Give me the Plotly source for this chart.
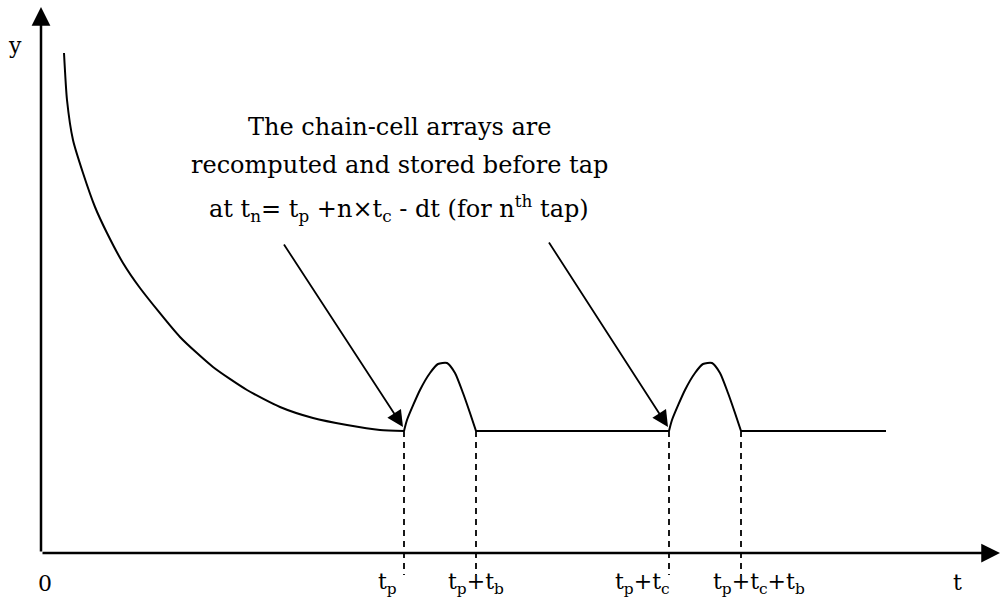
import plotly.graph_objects as go

# Timing parameters (time units along t, response units along y)
t_p = 363          # start of first tap
t_b = 72           # tap duration
t_c = 265          # tap cycle
t_end = 845        # end of plotted response
y_level = 122      # steady level between taps

# Initial decay of the response before the first tap
decay_t = [23, 26, 32, 42, 54, 66, 82, 99, 139, 172, 206, 239, 272, 306, 339, 363]
decay_y = [500, 453, 413, 380, 346, 320, 290, 265, 216, 186, 163, 146, 135, 128, 123, 122]

# Shape of a single tap pulse (offset from tap start, rise above steady level)
pulse_dt = [0, 3, 16, 26, 34, 43, 51, 59, 66, 72]
pulse_dy = [0, 11, 41, 58, 67, 68, 58, 38, 18, 0]

# Axis tick labels along t
tick_pos = [t_p, t_p + t_b, t_p + t_c, t_p + t_c + t_b]
tick_text = ["t<sub>p</sub>", "t<sub>p</sub>+t<sub>b</sub>",
             "t<sub>p</sub>+t<sub>c</sub>", "t<sub>p</sub>+t<sub>c</sub>+t<sub>b</sub>"]
tick_xshift = [-17, 0, -27, 18]

note_lines = [
    "The chain-cell arrays are",
    "recomputed and stored before tap",
    "at t<sub>n</sub>= t<sub>p</sub> +n×t<sub>c</sub> - dt (for n<sup>th</sup> tap)",
]

FONT = "DejaVu Serif"
BLACK = "#000000"
LINE = dict(color=BLACK, width=2)

fig = go.Figure()

# Dashed guides from the curve down past the t axis
for tp in tick_pos:
    fig.add_trace(go.Scatter(
        x=[tp, tp], y=[y_level, -22], mode="lines",
        line=dict(color=BLACK, width=1.8, dash="6px,5px"),
        hoverinfo="skip", showlegend=False))

# Initial decay
fig.add_trace(go.Scatter(
    x=decay_t, y=decay_y, mode="lines",
    line=dict(LINE, shape="spline", smoothing=0.6),
    hoverinfo="skip", showlegend=False))

# Tap pulses and the steady level between them
tap_starts = [t_p, t_p + t_c]
flat_ends = [t_p + t_c, t_end]
for start, flat_end in zip(tap_starts, flat_ends):
    fig.add_trace(go.Scatter(
        x=[start + dt for dt in pulse_dt],
        y=[y_level + dy for dy in pulse_dy], mode="lines",
        line=dict(LINE, shape="spline", smoothing=0.6),
        hoverinfo="skip", showlegend=False))
    fig.add_trace(go.Scatter(
        x=[start + t_b, flat_end], y=[y_level, y_level], mode="lines",
        line=LINE, hoverinfo="skip", showlegend=False))

annotations = []

# Axes drawn as arrows
annotations.append(dict(x=0, y=546, ax=0, ay=0, xref="x", yref="y", axref="x", ayref="y",
                        text="", showarrow=True, arrowhead=2, arrowsize=1.5,
                        arrowwidth=2.5, arrowcolor=BLACK))
annotations.append(dict(x=959, y=0, ax=0, ay=0, xref="x", yref="y", axref="x", ayref="y",
                        text="", showarrow=True, arrowhead=2, arrowsize=1.5,
                        arrowwidth=2.5, arrowcolor=BLACK))

# Pointers to the moments the arrays are recomputed
for (sx, sy), tap in zip([(242, 310), (507, 312)], tap_starts):
    annotations.append(dict(x=tap - 1, y=y_level + 4, ax=sx, ay=sy,
                            xref="x", yref="y", axref="x", ayref="y",
                            text="", showarrow=True, arrowhead=2, arrowsize=1.8,
                            arrowwidth=1.8, arrowcolor=BLACK))

# Note text
for line, yy in zip(note_lines, [426, 388, 345]):
    annotations.append(dict(x=358, y=yy, xref="x", yref="y", text=line,
                            showarrow=False, font=dict(family=FONT, size=24, color=BLACK)))

# Axis labels
annotations.append(dict(x=-26, y=508, xref="x", yref="y", text="y", showarrow=False,
                        font=dict(family=FONT, size=22, color=BLACK)))
annotations.append(dict(x=4, y=-30, xref="x", yref="y", text="0", showarrow=False,
                        font=dict(family=FONT, size=22, color=BLACK)))
annotations.append(dict(x=916, y=-29, xref="x", yref="y", text="t", showarrow=False,
                        font=dict(family=FONT, size=22, color=BLACK)))

for tp, txt, xs in zip(tick_pos, tick_text, tick_xshift):
    annotations.append(dict(x=tp, y=-30, xref="x", yref="y", text=txt, showarrow=False,
                            xshift=xs, font=dict(family=FONT, size=22, color=BLACK)))

fig.update_layout(
    width=1002, height=602,
    margin=dict(l=0, r=0, t=0, b=0),
    paper_bgcolor="white", plot_bgcolor="white",
    xaxis=dict(range=[-41, 961], visible=False, fixedrange=True),
    yaxis=dict(range=[-49, 553], visible=False, fixedrange=True),
    annotations=annotations,
    showlegend=False,
)

fig.write_html("out.html")
